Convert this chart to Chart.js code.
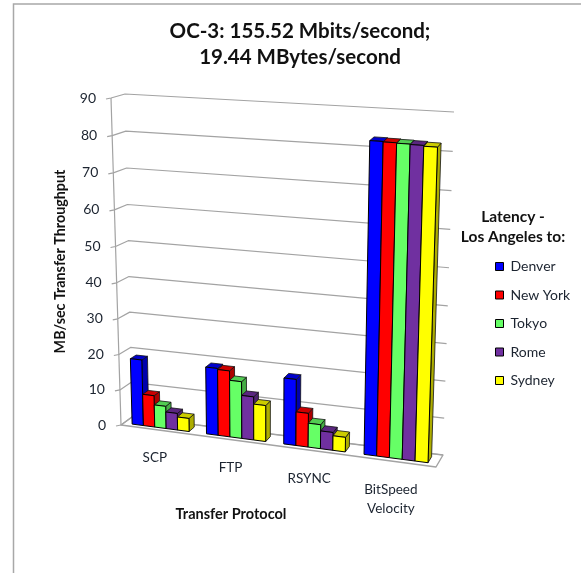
<!DOCTYPE html>
<html>
<head>
<meta charset="utf-8">
<title>OC-3 throughput</title>
<script src="https://cdn.jsdelivr.net/npm/chart.js@4"></script>
<style>
  html, body { margin:0; padding:0; background:#fff; }
  canvas { display:block; }
</style>
</head>
<body>
<canvas id="c" width="581" height="573"></canvas>
<script>
const categories = ['SCP', 'FTP', 'RSYNC', ['BitSpeed', 'Velocity']];
const denver  = [18.6, 18.7, 18.2, 83.0];
const newYork = [8.9, 18.4, 9.3, 82.9];
const tokyo   = [6.3, 15.8, 6.6, 82.8];
const rome    = [4.7, 12.0, 4.9, 82.7];
const sydney  = [3.7, 10.0, 4.0, 82.5];
const FONT = 'Lato, "Open Sans", sans-serif';
const GRID = '#a3a3a3';
const TEXT = '#1c2430';

// corners of the 3d box on screen: [bottom, top] for left/right, front/back
const BOX = {
  fl0:[121,425], fr0:[436,467], fl1:[111,98],  fr1:[447,120],
  bl0:[132,417], br0:[443,455], bl1:[125,94],  br1:[454,112]
};
const WARP_U = 0.08, WARP_V = 0.04;
const DEPTH_FRONT = 0.25, DEPTH_BACK = 0.75;

const warp = (t, k) => t / (1 + k * (1 - t));
const mix = (a, b, t) => [a[0] + (b[0]-a[0])*t, a[1] + (b[1]-a[1])*t];

let area;

// u,v,w all 0..1: along the x axis, up the y axis, into the wall
function project(u, v, w){
  const U = warp(u, WARP_U), V = warp(v, WARP_V);
  const front = mix(mix(BOX.fl0, BOX.fr0, U), mix(BOX.fl1, BOX.fr1, U), V);
  const back  = mix(mix(BOX.bl0, BOX.br0, U), mix(BOX.bl1, BOX.br1, U), V);
  return mix(front, back, w);
}
function toUV(x, y){
  return [(x - area.left) / (area.right - area.left), (area.bottom - y) / (area.bottom - area.top)];
}
function poly(ctx, pts, fill, stroke, lw){
  ctx.beginPath();
  pts.forEach((p, i) => i ? ctx.lineTo(p[0], p[1]) : ctx.moveTo(p[0], p[1]));
  ctx.closePath();
  if (fill){ ctx.fillStyle = fill; ctx.fill(); }
  if (stroke){ ctx.strokeStyle = stroke; ctx.lineWidth = lw; ctx.stroke(); }
}
function shade(hex, f){
  const n = parseInt(hex.slice(1), 16);
  const c = [n >> 16, (n >> 8) & 255, n & 255].map(v => Math.round(v * f));
  return `rgb(${c[0]},${c[1]},${c[2]})`;
}

// bars keep the geometry the bar controller gave them, only the painting is 3d.
// The controller paints Sydney first; the side faces need Denver first, so the
// plugin below calls paint3d series by series.
Chart.BarElement.prototype.draw = function(){};
Chart.BarElement.prototype.paint3d = function(ctx){
  const { x, y, base, width } = this.getProps(['x','y','base','width']);
  const [u0, v0] = toUV(x - width/2, base);
  const [u1, v1] = toUV(x + width/2, y);
  const col = this.options.backgroundColor;
  const p = project;
  const f = DEPTH_FRONT, b = DEPTH_BACK;
  ctx.save();
  ctx.lineJoin = 'round';
  poly(ctx, [p(u1,v0,f), p(u1,v0,b), p(u1,v1,b), p(u1,v1,f)], shade(col, 0.68), '#111', 0.8);
  poly(ctx, [p(u0,v1,f), p(u1,v1,f), p(u1,v1,b), p(u0,v1,b)], shade(col, 0.8), '#111', 0.8);
  poly(ctx, [p(u0,v0,f), p(u1,v0,f), p(u1,v1,f), p(u0,v1,f)], col, '#000', 1);
  ctx.restore();
};

const box3d = {
  id:'box3d',
  afterLayout(c){
    area = c.chartArea;
    // legend sits lower than the plot centre
    c.legend.left = 481;
    c.legend.top = 245;
  },
  beforeDraw(c){
    const ctx = c.ctx;
    ctx.save();
    ctx.strokeStyle = '#a8a8a8';
    ctx.lineWidth = 1.5;
    ctx.beginPath();
    ctx.moveTo(13.5, 573); ctx.lineTo(13.5, 4); ctx.lineTo(581, 4);
    ctx.stroke();
    ctx.restore();
  },
  beforeDatasetsDraw(c){
    const ctx = c.ctx, sy = c.scales.y;
    ctx.save();
    ctx.lineJoin = 'round';
    // floor
    poly(ctx, [project(0,0,0), project(1,0,0), project(1,0,1), project(0,0,1)], '#fff', GRID, 1.4);
    // wall grid, one line for each axis tick
    ctx.strokeStyle = GRID; ctx.lineWidth = 1.2;
    sy.ticks.forEach(t => {
      const v = toUV(0, sy.getPixelForValue(t.value))[1];
      const f = project(0, v, 0), l = project(0, v, 1), r = project(1, v, 1);
      ctx.beginPath();
      ctx.moveTo(f[0] - 5, f[1] + 1);
      ctx.lineTo(f[0], f[1]);
      ctx.lineTo(l[0], l[1]);
      ctx.lineTo(r[0], r[1]);
      ctx.stroke();
    });
    const a = project(0,0,0), z = project(0,1,0);
    ctx.beginPath(); ctx.moveTo(a[0], a[1]); ctx.lineTo(z[0], z[1]); ctx.stroke();
    ctx.restore();
  },
  afterDatasetsDraw(c){
    const ctx = c.ctx, sy = c.scales.y, sx = c.scales.x;
    c.data.datasets.forEach((d, i) => {
      c.getDatasetMeta(i).data.forEach(bar => bar.paint3d(ctx));
    });
    ctx.save();
    ctx.fillStyle = TEXT;
    ctx.textBaseline = 'middle';
    // y tick labels follow the tilted axis
    ctx.textAlign = 'right';
    ctx.font = '14px ' + FONT;
    sy.ticks.forEach(t => {
      const v = toUV(0, sy.getPixelForValue(t.value))[1];
      const f = project(0, v, 0);
      ctx.fillText(t.label, f[0] - 15, f[1]);
    });
    // category labels hang under the front edge of the floor
    ctx.textAlign = 'center';
    ctx.font = '13.5px ' + FONT;
    categories.forEach((label, i) => {
      const u = toUV(sx.getPixelForTick(i), 0)[0];
      const f = project(u, 0, 0);
      [].concat(label).forEach((line, k) => ctx.fillText(line, f[0] - 3, f[1] + 28 + k * 19));
    });
    ctx.fillStyle = '#111';
    ctx.font = 'bold 14.5px ' + FONT;
    ctx.fillText('Transfer Protocol', 231, 514);
    ctx.font = 'bold 15.5px ' + FONT;
    ctx.fillText('Latency -', 513, 216.5);
    ctx.fillText('Los Angeles to:', 513, 237);
    ctx.restore();
  }
};

const series = [
  ['Denver', denver, '#0000ff'],
  ['New York', newYork, '#ff0000'],
  ['Tokyo', tokyo, '#66ff66'],
  ['Rome', rome, '#7030a0'],
  ['Sydney', sydney, '#ffff00']
];

new Chart(document.getElementById('c'), {
  type: 'bar',
  data: {
    labels: categories,
    datasets: series.map(s => ({
      label: s[0], data: s[1], backgroundColor: s[2],
      borderColor: '#000', borderWidth: 1, clip: false
    }))
  },
  plugins: [box3d],
  options: {
    responsive: false,
    animation: false,
    devicePixelRatio: 1,
    categoryPercentage: 0.77,
    barPercentage: 1,
    layout: { padding: { left:29, right:10, top:0, bottom:140 } },
    plugins: {
      title: {
        display: true,
        text: ['OC-3: 155.52 Mbits/second;', '19.44 MBytes/second'],
        color: '#111', font: { family: FONT, size: 20.5, weight: 'bold', lineHeight: 1.27 },
        padding: { top: 18, bottom: 28 }
      },
      legend: {
        position: 'right', align: 'start',
        labels: {
          boxWidth: 8, boxHeight: 8, padding: 14.5, color: TEXT,
          font: { family: FONT, size: 14 }
        }
      },
      tooltip: { enabled: false }
    },
    scales: {
      x: {
        ticks: { display: false }, grid: { display: false }, border: { display: false }
      },
      y: {
        min: 0, max: 90,
        ticks: { display: false, stepSize: 10 },
        grid: { display: false }, border: { display: false },
        afterFit(s){ s.width = 93; },
        title: {
          display: true, text: 'MB/sec Transfer Throughput',
          color: '#111', font: { family: FONT, size: 14.3, weight: 'bold' },
          padding: { top: 23, bottom: 0 }
        }
      }
    }
  }
});
</script>
</body>
</html>
